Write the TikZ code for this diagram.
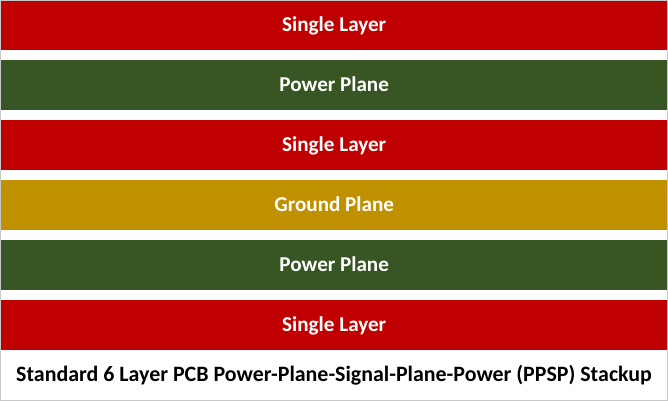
\documentclass[tikz,border=0pt]{standalone}
\usepackage{fontspec}
\setmainfont{Carlito}
\definecolor{layred}{HTML}{C00000}
\definecolor{laygreen}{HTML}{375623}
\definecolor{laygold}{HTML}{BF9000}
\definecolor{frame}{HTML}{C8C8C8}
\begin{document}
\begin{tikzpicture}[x=1bp,y=-1bp,
  band/.style={draw=none,inner sep=0pt,minimum width=666bp,minimum height=50bp,
    text=white,font=\bfseries\fontsize{21.2}{23}\selectfont,
    text height=13.4bp,text depth=0pt,anchor=north west},
  caption/.style={inner sep=0pt,font=\bfseries\fontsize{22}{24}\selectfont,
    text height=14bp,text depth=0pt,text=black}]
\useasboundingbox (0,0) rectangle (668,401);
\fill[white] (0,0) rectangle (668,401);
\node[band,fill=layred]   (l1) at (1,0)   {Single Layer};
\node[band,fill=laygreen] (l2) at (1,60)  {Power Plane};
\node[band,fill=layred]   (l3) at (1,120) {Single Layer};
\node[band,fill=laygold]  (l4) at (1,180) {Ground Plane};
\node[band,fill=laygreen] (l5) at (1,240) {Power Plane};
\node[band,fill=layred]   (l6) at (1,300) {Single Layer};
\node[caption] (cap) at (334,374.5) {Standard 6 Layer PCB Power-Plane-Signal-Plane-Power (PPSP) Stackup};
\draw[frame,line width=1bp] (0.5,0.5) rectangle (667.5,400.5);
\end{tikzpicture}
\end{document}
